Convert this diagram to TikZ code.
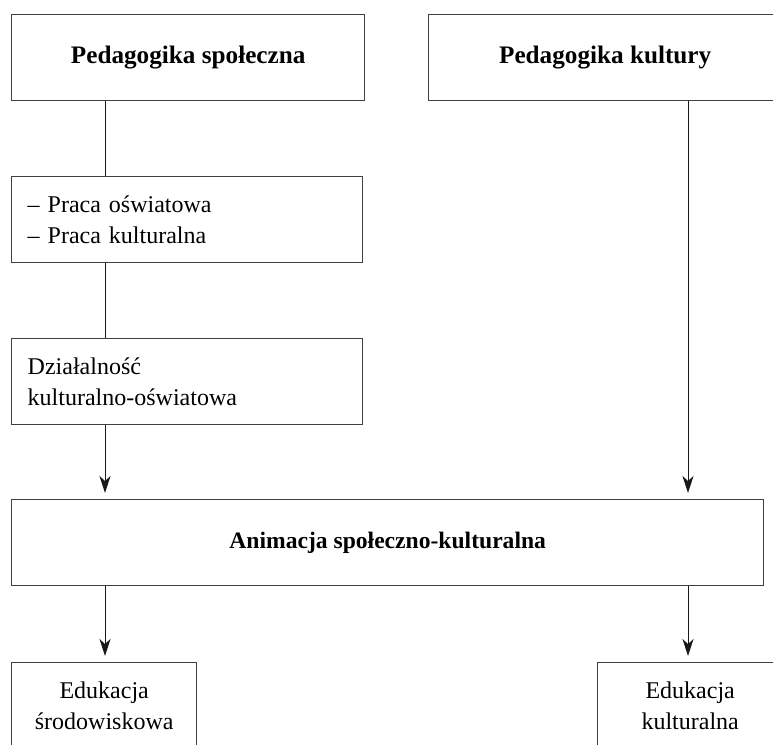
\documentclass[tikz,border=0pt]{standalone}
\usepackage{fontspec}
\setmainfont{Liberation Serif}
\usetikzlibrary{arrows.meta}
\begin{document}
\begin{tikzpicture}[x=1pt,y=-1pt,
  box/.style={draw=black!75, line width=1.4pt, inner sep=0pt, minimum height=86pt, anchor=north west,
    font=\fontsize{24}{31}\selectfont},
  lbox/.style={box, text width=319pt, inner xsep=16pt, align=left},
  cbox/.style={box, align=center},
  bold/.style={font=\fontsize{25.2}{31}\selectfont\bfseries},
  conn/.style={draw=black!90, line width=1pt},
  arr/.style={conn, -{Stealth[length=17pt,width=11pt,inset=5pt]}, shorten >=6pt}]
\useasboundingbox (0,0) rectangle (773,744);
\clip (0,0) rectangle (773,744);
\node[cbox, bold, minimum width=353pt] (ps) at (11,14) {Pedagogika społeczna};
\node[cbox, bold, minimum width=353pt] (pk) at (428,14) {Pedagogika kultury};
\node[lbox] (pr) at (11,176) {– Praca oświatowa\\– Praca kulturalna};
\node[lbox] (dz) at (11,338) {Działalność\\kulturalno-oświatowa};
\node[cbox, font=\fontsize{23.6}{31}\selectfont\bfseries, minimum width=752pt] (an) at (11,499) {Animacja społeczno-kulturalna};
\node[cbox, minimum width=185pt] (es) at (11,662) {Edukacja\\środowiskowa};
\node[cbox, minimum width=185pt] (ek) at (597,662) {Edukacja\\kulturalna};
\coordinate (x1) at (105,0);
\coordinate (x2) at (688,0);
\draw[conn] (ps.south -| x1) -- (pr.north -| x1);
\draw[conn] (pr.south -| x1) -- (dz.north -| x1);
\draw[arr] (dz.south -| x1) -- (an.north -| x1);
\draw[arr] (pk.south -| x2) -- (an.north -| x2);
\draw[arr] (an.south -| x1) -- (es.north -| x1);
\draw[arr] (an.south -| x2) -- (ek.north -| x2);
\end{tikzpicture}
\end{document}
